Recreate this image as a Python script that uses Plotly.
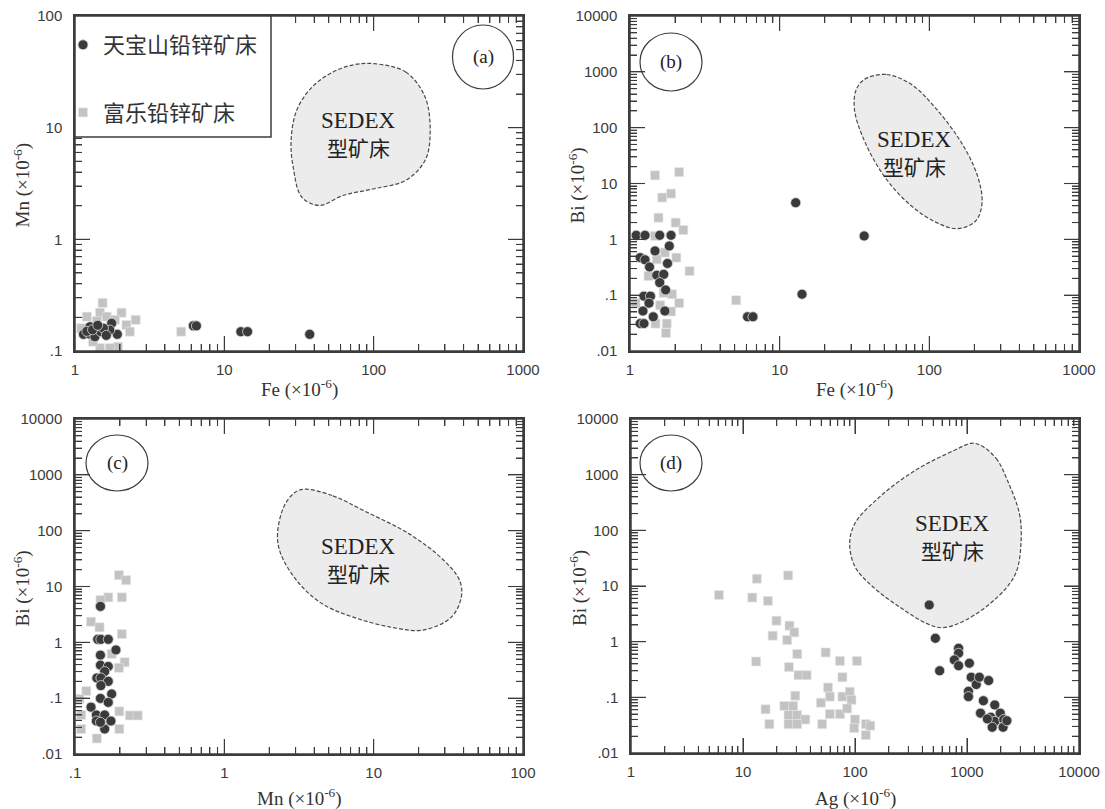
import numpy as np
import plotly.graph_objects as go

W, H = 1105, 809

# ---------------- data ----------------
# (a) Fe vs Mn
a_tbs_fe = [1.14, 1.25, 1.36, 1.26, 1.49, 1.76, 1.92, 1.71, 1.20, 1.31, 1.55, 1.62, 1.42, 6.2, 6.5, 12.9, 14.3, 37.3]
a_tbs_mn = [0.141, 0.142, 0.134, 0.165, 0.149, 0.177, 0.141, 0.154, 0.150, 0.155, 0.160, 0.138, 0.170, 0.168, 0.168, 0.149, 0.149, 0.141]
a_fl_fe = [1.53, 2.05, 2.55, 1.47, 1.94, 1.47, 1.71, 2.21, 1.20, 1.63, 2.33, 1.32, 1.10, 1.85, 1.40, 5.14]
a_fl_mn = [0.27, 0.22, 0.19, 0.22, 0.109, 0.106, 0.106, 0.171, 0.203, 0.203, 0.149, 0.121, 0.160, 0.190, 0.185, 0.149]

# (b) Fe vs Bi
b_tbs_fe = [1.10, 1.26, 1.58, 1.88, 1.47, 1.83, 1.17, 1.26, 1.35, 1.51, 1.68, 1.78, 1.58, 1.73, 1.24, 1.37,
            1.34, 1.22, 1.43, 1.71, 1.17, 1.24, 6.1, 6.63, 12.8, 14.1, 36.7]
b_tbs_bi = [1.18, 1.18, 1.18, 1.18, 0.62, 0.76, 0.47, 0.43, 0.32, 0.227, 0.236, 0.37, 0.168, 0.124, 0.096, 0.096,
            0.072, 0.052, 0.041, 0.052, 0.031, 0.031, 0.041, 0.041, 4.53, 0.104, 1.15]
b_fl_fe = [1.47, 2.13, 1.64, 1.88, 1.55, 2.02, 2.27, 2.04, 2.50, 1.71, 1.51, 1.33, 1.91, 1.59, 2.13, 1.09,
           1.88, 1.48, 1.76, 1.74, 1.47, 1.68, 5.12]
b_fl_bi = [14.0, 16.0, 5.6, 6.6, 2.44, 1.99, 1.47, 0.47, 0.27, 0.58, 0.44, 0.22, 0.104, 0.066, 0.072, 0.072,
           0.051, 0.031, 0.031, 0.021, 1.15, 0.11, 0.081]

# (c) Mn vs Bi
c_tbs_mn = [0.148, 0.142, 0.149, 0.167, 0.188, 0.148, 0.148, 0.167, 0.158, 0.140, 0.149, 0.167, 0.149, 0.176,
            0.148, 0.167, 0.128, 0.139, 0.158, 0.139, 0.174, 0.158, 0.148]
c_tbs_bi = [4.4, 1.13, 1.13, 1.13, 0.73, 0.59, 0.39, 0.37, 0.30, 0.23, 0.23, 0.20, 0.168, 0.119,
            0.099, 0.084, 0.069, 0.050, 0.050, 0.039, 0.039, 0.028, 0.037]
c_fl_mn = [0.197, 0.220, 0.167, 0.206, 0.148, 0.128, 0.146, 0.206, 0.176, 0.215, 0.197, 0.119, 0.110, 0.110,
           0.198, 0.233, 0.263, 0.140, 0.198, 0.107]
c_fl_bi = [16.0, 13.0, 6.4, 6.4, 5.7, 2.34, 1.86, 1.41, 0.62, 0.44, 0.35, 0.134, 0.050, 0.028,
           0.058, 0.049, 0.049, 0.019, 0.028, 0.097]

# (d) Ag vs Bi
d_tbs_ag = [460, 522, 570, 841, 841, 771, 841, 1050, 1090, 1210, 1290, 1560, 1030, 1030, 1400, 1770,
            1320, 1630, 1770, 1980, 2130, 1680, 2100, 2270, 1520]
d_tbs_bi = [4.56, 1.15, 0.30, 0.76, 0.62, 0.47, 0.37, 0.41, 0.23, 0.17, 0.23, 0.20, 0.128, 0.103, 0.087, 0.073,
            0.052, 0.044, 0.037, 0.052, 0.040, 0.029, 0.029, 0.038, 0.041]
d_fl_ag = [6.1, 13.3, 25.3, 12.1, 16.7, 19.9, 26.0, 18.4, 28.7, 24.8, 30.5, 13.1, 25.7, 31.3, 37.0, 54.7,
           73.4, 104, 77.2, 57.4, 59.6, 77.2, 89.8, 93.0, 49.6, 29.3, 15.9, 23.4, 28.0, 25.5, 30.4, 36.0,
           17.2, 25.5, 30.4, 50.9, 59.6, 73.4, 85.0, 100, 98.4, 125, 137, 125]
d_fl_bi = [6.9, 13.5, 15.5, 6.2, 5.4, 2.38, 1.94, 1.28, 1.47, 1.07, 0.60, 0.44, 0.35, 0.25, 0.25, 0.64,
           0.45, 0.45, 0.23, 0.15, 0.103, 0.103, 0.126, 0.090, 0.080, 0.107, 0.061, 0.070, 0.070, 0.048, 0.048, 0.040,
           0.033, 0.033, 0.033, 0.033, 0.050, 0.050, 0.063, 0.040, 0.028, 0.033, 0.031, 0.021]

# SEDEX fields (outline vertices)
sedex_a_x = [101, 164, 221, 239, 221, 164, 101, 62.8, 43.2, 33.0, 28.9, 28.0, 30.5, 38.7, 53.4, 73.6]
sedex_a_y = [37.4, 31.5, 18.8, 8.8, 5.1, 3.37, 2.84, 2.48, 2.01, 2.39, 4.44, 7.7, 14.3, 23.1, 31.5, 36.6]
sedex_b_x = [37.3, 51.8, 76, 112, 164, 210, 225, 204, 155, 112, 76, 51.8, 37.3, 31.6, 32.5]
sedex_b_y = [748, 895, 593, 212, 53.6, 13.6, 4.53, 2.13, 1.55, 1.99, 3.95, 11.8, 53.6, 212, 482]
sedex_c_x = [3.48, 5.34, 8.65, 17.4, 29.7, 37.7, 38.6, 33.0, 21.5, 13.3, 7.37, 4.55, 3.13, 2.39, 2.27, 2.52, 2.97]
sedex_c_y = [553, 421, 226, 86.7, 28.9, 12.7, 6.38, 2.80, 1.66, 1.85, 2.80, 4.85, 11.8, 38, 86.7, 279, 483]
sedex_d_x = [1307, 1820, 2355, 2933, 3043, 2724, 1888, 975, 604, 434, 260, 144, 100, 89.6, 100, 167, 349, 782, 1088]
sedex_d_y = [3410, 1963, 699, 202, 67, 16.9, 6.43, 2.45, 1.78, 2.13, 3.97, 9.7, 22.2, 58.4, 134, 403, 1213, 2775, 3660]

# SEDEX label anchors (data coordinates)
sedex_label = {"a": (79, 8.9), "b": (80, 36), "c": (7.9, 31), "d": (735, 78)}

# decade tick labels written without leading zeros / separators
tick_alias = {"0.1": ".1", "0.01": ".01", "10,000": "10000", "10 000": "10000"}

NAME_TBS = "天宝山铅锌矿床"
NAME_FL = "富乐铅锌矿床"

# ---------------- styling ----------------
DARK = "#3a3a3a"
LIGHT = "#c3c3c3"
FRAME = "#3c3c3c"
SERIF = "Liberation Serif, Times New Roman, serif"
SANS = "Liberation Sans, Arial, sans-serif"
CJK = "Noto Sans CJK SC"
MAJOR_LEN, MINOR_LEN = 15, 7


def px(x):
    return x / W


def py(y):
    return 1 - y / H


# panel frames (pixel extents) and log10 ranges
frames = {
    "a": ((75, 523), (16, 351)),
    "b": ((630, 1079), (16, 351)),
    "c": ((75, 523), (419, 754)),
    "d": ((631, 1079), (419, 753)),
}
ax_ranges = {
    "a": ((0, 3), (-1, 2)),
    "b": ((0, 3), (-2, 4)),
    "c": ((-1, 2), (-2, 4)),
    "d": ((0, 4), (-2, 4)),
}


def dom(p):
    (x0, x1), (y0, y1) = frames[p]
    return [px(x0), px(x1)], [py(y1), py(y0)]


def log_axis(lo, hi, domain, anchor, standoff):
    return dict(
        type="log", range=[lo, hi], domain=domain, anchor=anchor,
        showline=True, linecolor=FRAME, linewidth=1.5, mirror="ticks",
        ticks="inside", ticklen=MAJOR_LEN, tickcolor=FRAME,
        tickmode="linear", tick0=0, dtick=1, exponentformat="none",
        labelalias=tick_alias,
        minor=dict(ticks="inside", ticklen=MINOR_LEN, tickcolor=FRAME, dtick="D1"),
        showgrid=False, zeroline=False,
        tickfont=dict(family=SANS, size=15, color="#3a3a3a"),
        ticklabelstandoff=standoff,
    )


def log_marks(lo, hi):
    """(log position, is_major) for every decade/sub-decade mark inside the range."""
    out = []
    for e in range(lo, hi):
        for m in range(1, 10):
            if m == 1 and e == lo:
                continue
            out.append((e + np.log10(m), m == 1))
    return out


def frame_marks(key):
    """Short segments (pixel coords) for the frame edges and inward tick marks of one panel."""
    (x0, x1), (y0, y1) = frames[key]
    (xlo, xhi), (ylo, yhi) = ax_ranges[key]
    segs = []
    for v, major in log_marks(xlo, xhi):
        X = x0 + (v - xlo) / (xhi - xlo) * (x1 - x0)
        L = MAJOR_LEN if major else MINOR_LEN
        segs.append(((X, y1, X, y1 - L), 1.1))
        segs.append(((X, y0, X, y0 + L), 1.1))
    for v, major in log_marks(ylo, yhi):
        Y = y1 - (v - ylo) / (yhi - ylo) * (y1 - y0)
        L = MAJOR_LEN if major else MINOR_LEN
        segs.append(((x0, Y, x0 + L, Y), 1.1))
        segs.append(((x1, Y, x1 - L, Y), 1.1))
    # frame edges, one piece per decade
    for e in range(xlo, xhi):
        a = x0 + (e - xlo) / (xhi - xlo) * (x1 - x0)
        b = x0 + (e + 1 - xlo) / (xhi - xlo) * (x1 - x0)
        segs.append(((a, y0, b, y0), 1.5))
        segs.append(((a, y1, b, y1), 1.5))
    for e in range(ylo, yhi):
        a = y1 - (e - ylo) / (yhi - ylo) * (y1 - y0)
        b = y1 - (e + 1 - ylo) / (yhi - ylo) * (y1 - y0)
        segs.append(((x0, a, x0, b), 1.5))
        segs.append(((x1, a, x1, b), 1.5))
    return segs


fig = go.Figure()

panels = [
    ("a", "x", "y", a_tbs_fe, a_tbs_mn, a_fl_fe, a_fl_mn, sedex_a_x, sedex_a_y),
    ("b", "x2", "y2", b_tbs_fe, b_tbs_bi, b_fl_fe, b_fl_bi, sedex_b_x, sedex_b_y),
    ("c", "x3", "y3", c_tbs_mn, c_tbs_bi, c_fl_mn, c_fl_bi, sedex_c_x, sedex_c_y),
    ("d", "x4", "y4", d_tbs_ag, d_tbs_bi, d_fl_ag, d_fl_bi, sedex_d_x, sedex_d_y),
]

for key, xa, ya, tx, ty, fx, fy, sx, sy in panels:
    first = key == "a"
    # SEDEX field
    fig.add_trace(go.Scatter(
        x=sx + [sx[0]], y=sy + [sy[0]], xaxis=xa, yaxis=ya, mode="lines",
        line=dict(color="#4a4a4a", width=1.2, dash="4px,2px", shape="spline", smoothing=1.0),
        fill="toself", fillcolor="#ececec", showlegend=False, hoverinfo="skip"))
    # 富乐 squares
    fig.add_trace(go.Scatter(
        x=fx, y=fy, xaxis=xa, yaxis=ya, mode="markers", name=NAME_FL,
        legendgroup="fl", legendrank=2, showlegend=first,
        marker=dict(symbol="square", size=9, color=LIGHT, line=dict(color="#e6e6e6", width=0.6))))
    # 天宝山 circles
    fig.add_trace(go.Scatter(
        x=tx, y=ty, xaxis=xa, yaxis=ya, mode="markers", name=NAME_TBS,
        legendgroup="tbs", legendrank=1, showlegend=first,
        marker=dict(symbol="circle", size=10, color=DARK, line=dict(color="#d8d8d8", width=0.8))))

layout = dict(
    width=W, height=H,
    margin=dict(l=0, r=0, t=0, b=0, autoexpand=False),
    paper_bgcolor="white", plot_bgcolor="white",
)
for i, key in enumerate(["a", "b", "c", "d"]):
    sfx = "" if i == 0 else str(i + 1)
    xd, yd = dom(key)
    (xlo, xhi), (ylo, yhi) = ax_ranges[key]
    layout["xaxis" + sfx] = log_axis(xlo, xhi, xd, "y" + sfx, 4)
    layout["yaxis" + sfx] = log_axis(ylo, yhi, yd, "x" + sfx, 8)
fig.update_layout(**layout)

# frame edges and tick marks as short line pieces
for key in ["a", "b", "c", "d"]:
    for (xa0, ya0, xa1, ya1), lw in frame_marks(key):
        fig.add_shape(type="line", xref="paper", yref="paper",
                      x0=px(xa0), y0=py(ya0), x1=px(xa1), y1=py(ya1),
                      line=dict(color=FRAME, width=lw))

# axis titles
xtitles = {"a": "Fe (×10<sup>-6</sup>)", "b": "Fe (×10<sup>-6</sup>)",
           "c": "Mn (×10<sup>-6</sup>)", "d": "Ag (×10<sup>-6</sup>)"}
ytitles = {"a": "Mn (×10<sup>-6</sup>)", "b": "Bi (×10<sup>-6</sup>)",
           "c": "Bi (×10<sup>-6</sup>)", "d": "Bi (×10<sup>-6</sup>)"}
xtitle_y = {"a": 388, "b": 388, "c": 797, "d": 797}
title_font = dict(family=SERIF, size=19, color="#333")
for key in ["a", "b", "c", "d"]:
    (x0, x1), (y0, y1) = frames[key]
    fig.add_annotation(x=px((x0 + x1) / 2), y=py(xtitle_y[key]), xref="paper", yref="paper",
                       xanchor="center", yanchor="middle",
                       text=xtitles[key], showarrow=False, font=title_font)
    fig.add_annotation(x=px(x0 - 53), y=py((y0 + y1) / 2 + 2), xref="paper", yref="paper",
                       xanchor="center", yanchor="middle",
                       text=ytitles[key], textangle=-90, showarrow=False, font=title_font)

# panel tags in circles
tags = {"a": (483, 57, 61, 64), "b": (671, 62, 62, 58), "c": (117, 463, 62, 56), "d": (671, 463, 62, 56)}
for key, (cx, cy, cw, ch) in tags.items():
    fig.add_shape(type="circle", xref="paper", yref="paper",
                  x0=px(cx - cw / 2), x1=px(cx + cw / 2), y0=py(cy + ch / 2), y1=py(cy - ch / 2),
                  line=dict(color=FRAME, width=1.2))
    fig.add_annotation(x=px(cx), y=py(cy), xref="paper", yref="paper", text="(%s)" % key,
                       xanchor="center", yanchor="middle",
                       showarrow=False, font=dict(family=SERIF, size=19, color="#222"))

# SEDEX labels
for i, key in enumerate(["a", "b", "c", "d"]):
    sfx = "" if i == 0 else str(i + 1)
    lx, ly = sedex_label[key]
    fig.add_annotation(x=np.log10(lx), y=np.log10(ly), xref="x" + sfx, yref="y" + sfx,
                       text="SEDEX", showarrow=False, yshift=13,
                       font=dict(family=SERIF, size=23, color="#222"))
    fig.add_annotation(x=np.log10(lx), y=np.log10(ly), xref="x" + sfx, yref="y" + sfx,
                       text="型矿床", showarrow=False, yshift=-14,
                       font=dict(family=CJK, size=21, color="#222"))

# legend box (opaque, covers the frame ticks underneath, below the legend entries)
fig.add_shape(type="rect", xref="paper", yref="paper",
              x0=px(75), x1=px(271), y0=py(137), y1=py(16),
              line=dict(color=FRAME, width=1.5), fillcolor="white", layer="above")
fig.update_layout(legend=dict(
    x=px(63), y=py(24), xanchor="left", yanchor="top",
    bgcolor="rgba(0,0,0,0)", borderwidth=0,
    font=dict(family=CJK, size=22, color="#333"),
    traceorder="grouped", tracegroupgap=36, itemwidth=30,
))

fig.write_html("out.html")
